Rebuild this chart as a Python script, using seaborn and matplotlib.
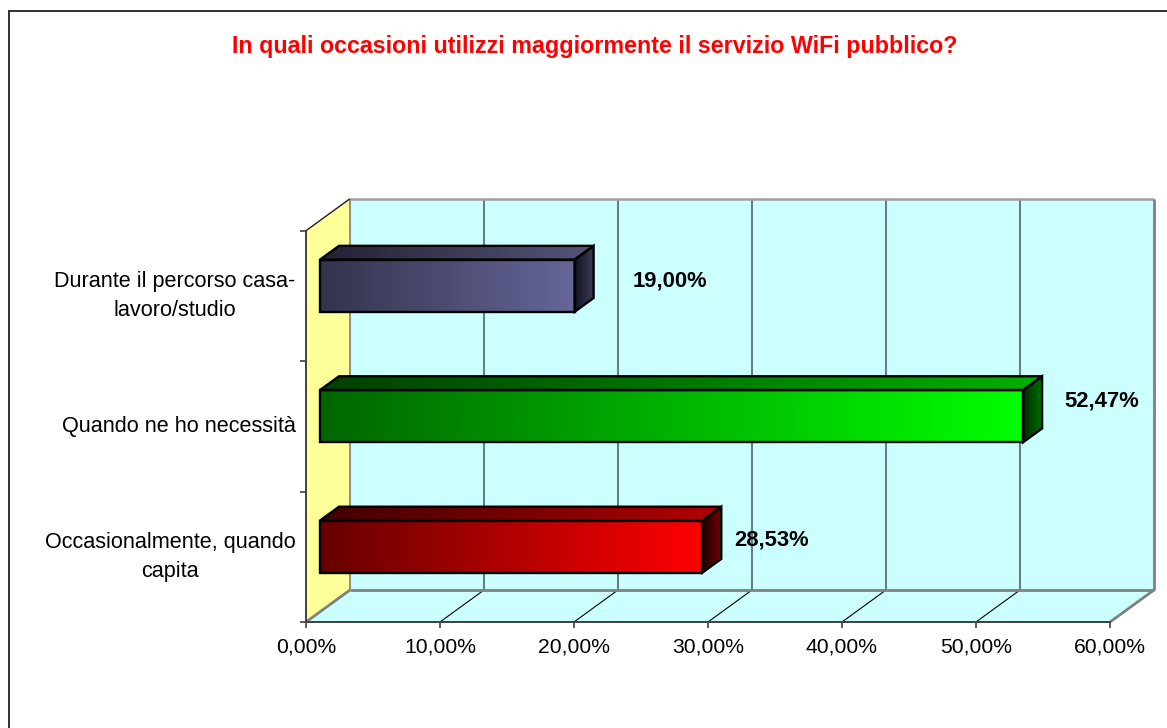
import numpy as np
import matplotlib
matplotlib.use('Agg')
import matplotlib.pyplot as plt
import seaborn as sns
from matplotlib.colors import LinearSegmentedColormap
from matplotlib.lines import Line2D
from matplotlib.patches import Polygon, Rectangle

# dati
categorie = ['Durante il percorso casa-\nlavoro/studio', 'Quando ne ho necessità', 'Occasionalmente, quando\ncapita']
valori = [19.00, 52.47, 28.53]
etichette = ['19,00%', '52,47%', '28,53%']
tick_x = [0, 10, 20, 30, 40, 50, 60]
titolo = 'In quali occasioni utilizzi maggiormente il servizio WiFi pubblico?'

# colori: (fronte, sopra, lato), ognuno da scuro a chiaro
colori = [
    (('#33334d', '#666699'), ('#222233', '#55557a'), ('#14141f', '#3d3d5c')),
    (('#006600', '#00ff00'), ('#004000', '#00b000'), ('#002800', '#007000')),
    (('#660000', '#ff0000'), ('#3f0000', '#b30000'), ('#1c0000', '#700000')),
]
# spostamento delle etichette rispetto alla fine della barra (pixel)
spost_etichette = [(58, 5), (41, 15), (32, 7)]

W, H = 1167, 728
sns.set_theme(style='white')
plt.rcParams['font.family'] = ['Liberation Sans', 'DejaVu Sans']
fig = plt.figure(figsize=(W / 100, H / 100), dpi=100)
ax = fig.add_axes([306 / W, (H - 622) / H, 804 / W, 391.3 / H])

sns.barplot(x=valori, y=categorie, orient='h', width=0.4, color='white', ax=ax)

ax.set_xlim(0, 60)
ax.set_ylim(2.5, -0.5)

# profondita della vista 3D in unita dei dati
DX = 44 / (804 / 60)
DY = -32 / (391.3 / 3)
f_fronte = 14 / 44
f_retro = f_fronte + 19 / 44


def proj(x, y, f):
    return (x + f * DX, y + f * DY)


def parete(punti, colore):
    ax.add_patch(Polygon(punti, closed=True, fc=colore, ec='none', zorder=1, clip_on=False))


def linea(a, b, colore='#808080', lw=2.0, z=2):
    ax.add_line(Line2D([a[0], b[0]], [a[1], b[1]], color=colore, lw=lw, zorder=z, clip_on=False,
                       solid_capstyle='butt'))


def faccia(punti, col):
    # poligono riempito con sfumatura orizzontale
    pts = np.array(punti)
    cmap = LinearSegmentedColormap.from_list('g', col)
    im = ax.imshow(np.linspace(0, 1, 256).reshape(1, -1), cmap=cmap, aspect='auto', zorder=3,
                   extent=(pts[:, 0].min(), pts[:, 0].max(), pts[:, 1].max(), pts[:, 1].min()))
    bordo = Polygon(punti, closed=True, fc='none', ec='black', lw=1.7, zorder=4, clip_on=False,
                    joinstyle='miter')
    ax.add_patch(bordo)
    im.set_clip_path(bordo)
    im.set_clip_on(True)


# pareti
yt, yb = -0.5, 2.5
parete([proj(0, yt, 1), proj(60, yt, 1), proj(60, yb, 1), proj(0, yb, 1)], '#ccffff')
parete([proj(0, yb, 0), proj(60, yb, 0), proj(60, yb, 1), proj(0, yb, 1)], '#ccffff')
parete([proj(0, yt, 0), proj(0, yt, 1), proj(0, yb, 1), proj(0, yb, 0)], '#ffff99')

# griglia
for v in tick_x[1:-1]:
    linea(proj(v, yt, 1), proj(v, yb, 1), '#668080', 1.5)
    linea(proj(v, yb, 0), proj(v, yb, 1), 'black', 0.8)
linea(proj(0, yt, 1), proj(60, yt, 1), '#a0a0a0', 1.8)
linea(proj(60, yt, 1), proj(60, yb, 1))
linea(proj(0, yt, 1), proj(0, yb, 1), '#909090', 1.5)
linea(proj(0, yb, 1), proj(60, yb, 1))
linea(proj(60, yb, 0), proj(60, yb, 1))
linea(proj(0, yb, 0), proj(0, yb, 1))
linea(proj(0, yt, 0), proj(0, yt, 1), '#202020', 1.0)

# barre 3D costruite dalle barre di seaborn
for patch, col, val, lab, off in zip(ax.patches[:3], colori, valori, etichette, spost_etichette):
    y0, y1 = patch.get_y(), patch.get_y() + patch.get_height()
    x1 = patch.get_width()
    patch.set_visible(False)
    fronte = [proj(0, y0, f_fronte), proj(x1, y0, f_fronte), proj(x1, y1, f_fronte), proj(0, y1, f_fronte)]
    sopra = [proj(0, y0, f_fronte), proj(0, y0, f_retro), proj(x1, y0, f_retro), proj(x1, y0, f_fronte)]
    lato = [proj(x1, y0, f_fronte), proj(x1, y0, f_retro), proj(x1, y1, f_retro), proj(x1, y1, f_fronte)]
    faccia(sopra, col[1])
    faccia(lato, col[2])
    faccia(fronte, col[0])
    ax.annotate(lab, xy=proj(x1, (y0 + y1) / 2, f_fronte), xytext=(off[0] * 0.72, off[1] * 0.72),
                textcoords='offset points', ha='left', va='center', fontsize=15.8, fontweight='bold',
                color='black', zorder=6, annotation_clip=False)

ax.set_xlim(0, 60)
ax.set_ylim(2.5, -0.5)
ax.grid(False)

# assi
for s in ['top', 'right']:
    ax.spines[s].set_visible(False)
for s in ['left', 'bottom']:
    ax.spines[s].set_color('#404040')
    ax.spines[s].set_linewidth(1.4)
    ax.spines[s].set_zorder(5)

ax.set_xticks(tick_x)
ax.set_xticklabels([f'{v:.2f}%'.replace('.', ',') for v in tick_x], fontsize=15.2, color='black')
ax.tick_params(axis='x', length=4.5, width=1.2, color='#404040', pad=7, bottom=True)
ax.set_yticks([-0.5, 0.5, 1.5, 2.5], minor=True)
ax.tick_params(axis='y', which='minor', length=4.5, width=1.2, color='#404040', left=True)
ax.tick_params(axis='y', which='major', length=0, pad=7.5, labelsize=15.6, labelcolor='black')
for t in ax.get_yticklabels():
    t.set_multialignment('center')
    t.set_linespacing(1.5)
    t.set_verticalalignment('center')
ax.set_xlabel('')
ax.set_ylabel('')

fig.text(595 / W, 1 - 46 / H, titolo, color='#ff0000', fontsize=16.75, fontweight='bold', ha='center', va='center')

# cornice esterna, esce dal bordo dell'immagine
fig.add_artist(Rectangle((8.5 / W, -0.05), 1.1, 1 - 11.5 / H + 0.05, transform=fig.transFigure, fc='none',
                         ec='#202020', lw=1.3))

fig.savefig('out.png', dpi=100, facecolor='white')
